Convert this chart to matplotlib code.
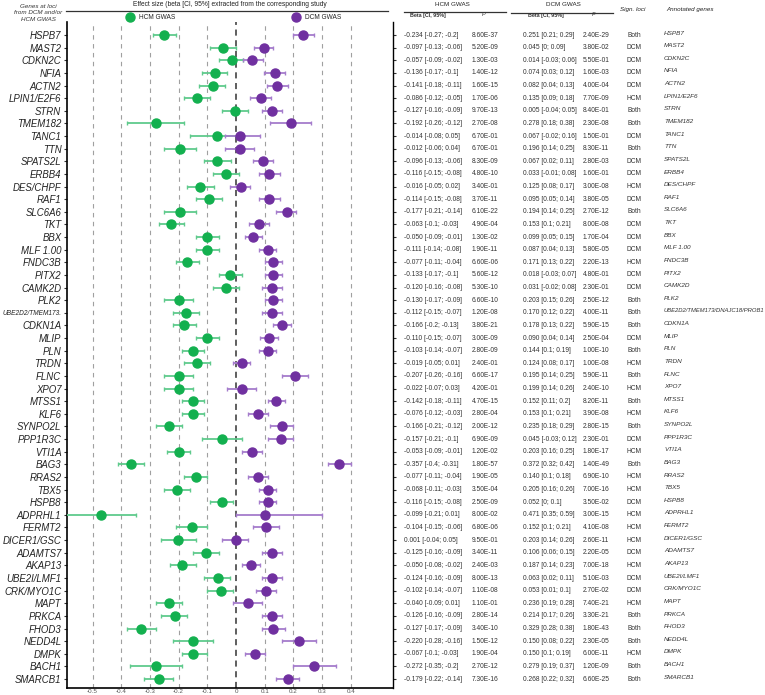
import numpy as np
import matplotlib.pyplot as plt
from matplotlib.lines import Line2D
from matplotlib.transforms import blended_transform_factory

plt.rcParams['font.family'] = ['Liberation Sans', 'DejaVu Sans']

genes = ['HSPB7', 'MAST2', 'CDKN2C', 'NFIA', 'ACTN2', 'LPIN1/E2F6', 'STRN', 'TMEM182',
         'TANC1', 'TTN', 'SPATS2L', 'ERBB4', 'DES/CHPF', 'RAF1', 'SLC6A6', 'TKT', 'BBX',
         'MLF 1.00', 'FNDC3B', 'PITX2', 'CAMK2D', 'PLK2', 'UBE2D2/TMEM173.', 'CDKN1A',
         'MLIP', 'PLN', 'TRDN', 'FLNC', 'XPO7', 'MTSS1', 'KLF6', 'SYNPO2L', 'PPP1R3C',
         'VTI1A', 'BAG3', 'RRAS2', 'TBX5', 'HSPB8', 'ADPRHL1', 'FERMT2', 'DICER1/GSC',
         'ADAMTS7', 'AKAP13', 'UBE2I/LMF1', 'CRK/MYO1C', 'MAPT', 'PRKCA', 'FHOD3',
         'NEDD4L', 'DMPK', 'BACH1', 'SMARCB1']

# значения (точка и 95% ДИ)
hcm_b = [-0.25, -0.045, -0.014, -0.074, -0.08, -0.135, -0.003, -0.278, -0.067, -0.195,
         -0.067, -0.034, -0.125, -0.095, -0.195, -0.225, -0.10, -0.10, -0.17, -0.02,
         -0.035, -0.20, -0.175, -0.18, -0.10, -0.15, -0.135, -0.20, -0.20, -0.15,
         -0.15, -0.235, -0.05, -0.20, -0.365, -0.14, -0.205, -0.05, -0.47, -0.153,
         -0.203, -0.105, -0.187, -0.063, -0.052, -0.235, -0.213, -0.33, -0.15, -0.15,
         -0.28, -0.267]
hcm_lo = [-0.29, -0.09, -0.06, -0.12, -0.13, -0.18, -0.05, -0.38, -0.16, -0.25,
          -0.11, -0.08, -0.17, -0.14, -0.25, -0.27, -0.14, -0.14, -0.21, -0.06,
          -0.08, -0.25, -0.22, -0.22, -0.14, -0.19, -0.18, -0.25, -0.25, -0.19,
          -0.19, -0.28, -0.12, -0.24, -0.41, -0.18, -0.25, -0.09, -0.60, -0.21,
          -0.26, -0.15, -0.23, -0.11, -0.10, -0.28, -0.26, -0.38, -0.22, -0.19,
          -0.37, -0.32]
hcm_hi = [-0.21, 0.0, 0.025, -0.03, -0.04, -0.09, 0.04, -0.18, 0.0, -0.14,
          -0.018, 0.01, -0.077, -0.048, -0.14, -0.18, -0.06, -0.06, -0.13, 0.02,
          0.01, -0.15, -0.13, -0.14, -0.06, -0.11, -0.09, -0.15, -0.15, -0.11,
          -0.11, -0.19, 0.02, -0.16, -0.32, -0.10, -0.16, -0.01, -0.35, -0.10,
          -0.14, -0.058, -0.14, -0.02, -0.01, -0.19, -0.17, -0.28, -0.08, -0.10,
          -0.19, -0.22]
dcm_b = [0.233, 0.098, 0.056, 0.135, 0.142, 0.086, 0.126, 0.192, 0.014, 0.013,
         0.095, 0.116, 0.017, 0.114, 0.178, 0.08, 0.06, 0.11, 0.13, 0.13,
         0.125, 0.13, 0.125, 0.16, 0.115, 0.11, 0.02, 0.205, 0.02, 0.14,
         0.075, 0.16, 0.155, 0.055, 0.36, 0.075, 0.11, 0.11, 0.10, 0.104,
         0.0, 0.126, 0.052, 0.125, 0.103, 0.04, 0.127, 0.128, 0.22, 0.067,
         0.272, 0.18]
dcm_lo = [0.20, 0.063, 0.025, 0.098, 0.108, 0.05, 0.09, 0.12, -0.04, -0.04,
          0.06, 0.08, -0.02, 0.08, 0.14, 0.045, 0.03, 0.08, 0.10, 0.10,
          0.09, 0.10, 0.09, 0.13, 0.085, 0.08, -0.01, 0.16, -0.03, 0.11,
          0.04, 0.12, 0.11, 0.02, 0.32, 0.04, 0.08, 0.08, 0.0, 0.06,
          -0.05, 0.09, 0.02, 0.09, 0.07, -0.01, 0.09, 0.09, 0.16, 0.03,
          0.20, 0.14]
dcm_hi = [0.27, 0.13, 0.093, 0.17, 0.18, 0.122, 0.16, 0.26, 0.083, 0.063,
          0.13, 0.153, 0.05, 0.153, 0.21, 0.115, 0.09, 0.14, 0.16, 0.16,
          0.16, 0.16, 0.16, 0.19, 0.145, 0.14, 0.05, 0.25, 0.07, 0.17,
          0.11, 0.20, 0.20, 0.09, 0.40, 0.11, 0.14, 0.14, 0.30, 0.15,
          0.04, 0.16, 0.083, 0.16, 0.14, 0.09, 0.16, 0.17, 0.28, 0.10,
          0.35, 0.22]

# таблица справа
hcm_txt = ['-0.234 [-0.27; -0.2]', '-0.097 [-0.13; -0.06]', '-0.057 [-0.09; -0.02]',
           '-0.136 [-0.17; -0.1]', '-0.141 [-0.18; -0.11]', '-0.086 [-0.12; -0.05]',
           '-0.127 [-0.16; -0.09]', '-0.192 [-0.26; -0.12]', '-0.014 [-0.08; 0.05]',
           '-0.012 [-0.06; 0.04]', '-0.096 [-0.13; -0.06]', '-0.116 [-0.15; -0.08]',
           '-0.016 [-0.05; 0.02]', '-0.114 [-0.15; -0.08]', '-0.177 [-0.21; -0.14]',
           '-0.063 [-0.1; -0.03]', '-0.050 [-0.09; -0.01]', '-0.111 [-0.14; -0.08]',
           '-0.077 [-0.11; -0.04]', '-0.133 [-0.17; -0.1]', '-0.120 [-0.16; -0.08]',
           '-0.130 [-0.17; -0.09]', '-0.112 [-0.15; -0.07]', '-0.166 [-0.2; -0.13]',
           '-0.110 [-0.15; -0.07]', '-0.103 [-0.14; -0.07]', '-0.019 [-0.05; 0.01]',
           '-0.207 [-0.26; -0.16]', '-0.022 [-0.07; 0.03]', '-0.142 [-0.18; -0.11]',
           '-0.076 [-0.12; -0.03]', '-0.166 [-0.21; -0.12]', '-0.157 [-0.21; -0.1]',
           '-0.053 [-0.09; -0.01]', '-0.357 [-0.4; -0.31]', '-0.077 [-0.11; -0.04]',
           '-0.068 [-0.11; -0.03]', '-0.116 [-0.15; -0.08]', '-0.099 [-0.21; 0.01]',
           '-0.104 [-0.15; -0.06]', '0.001 [-0.04; 0.05]', '-0.125 [-0.16; -0.09]',
           '-0.050 [-0.08; -0.02]', '-0.124 [-0.16; -0.09]', '-0.102 [-0.14; -0.07]',
           '-0.040 [-0.09; 0.01]', '-0.126 [-0.16; -0.09]', '-0.127 [-0.17; -0.09]',
           '-0.220 [-0.28; -0.16]', '-0.067 [-0.1; -0.03]', '-0.272 [-0.35; -0.2]',
           '-0.179 [-0.22; -0.14]']
hcm_p = ['8.60E-37', '5.20E-09', '1.30E-03', '1.40E-12', '1.60E-15', '1.70E-06',
         '9.70E-13', '2.70E-08', '6.70E-01', '6.70E-01', '8.30E-09', '4.80E-10',
         '3.40E-01', '3.70E-11', '6.10E-22', '4.90E-04', '1.30E-02', '1.90E-11',
         '6.60E-06', '5.60E-12', '5.30E-10', '6.60E-10', '1.20E-08', '3.80E-21',
         '3.00E-09', '2.80E-09', '2.40E-01', '6.60E-17', '4.20E-01', '4.70E-15',
         '2.80E-04', '2.00E-12', '6.90E-09', '1.20E-02', '1.80E-57', '1.90E-05',
         '3.50E-04', '2.50E-09', '8.00E-02', '6.80E-06', '9.50E-01', '3.40E-11',
         '2.40E-03', '8.00E-13', '1.10E-08', '1.10E-01', '2.80E-14', '3.40E-10',
         '1.50E-12', '1.90E-04', '2.70E-12', '7.30E-16']
dcm_txt = ['0.251 [0.21; 0.29]', '0.045 [0; 0.09]', '0.014 [-0.03; 0.06]',
           '0.074 [0.03; 0.12]', '0.082 [0.04; 0.13]', '0.135 [0.09; 0.18]',
           '0.005 [-0.04; 0.05]', '0.278 [0.18; 0.38]', '0.067 [-0.02; 0.16]',
           '0.196 [0.14; 0.25]', '0.067 [0.02; 0.11]', '0.033 [-0.01; 0.08]',
           '0.125 [0.08; 0.17]', '0.095 [0.05; 0.14]', '0.194 [0.14; 0.25]',
           '0.153 [0.1; 0.21]', '0.099 [0.05; 0.15]', '0.087 [0.04; 0.13]',
           '0.171 [0.13; 0.22]', '0.018 [-0.03; 0.07]', '0.031 [-0.02; 0.08]',
           '0.203 [0.15; 0.26]', '0.170 [0.12; 0.22]', '0.178 [0.13; 0.22]',
           '0.090 [0.04; 0.14]', '0.144 [0.1; 0.19]', '0.124 [0.08; 0.17]',
           '0.195 [0.14; 0.25]', '0.199 [0.14; 0.26]', '0.152 [0.11; 0.2]',
           '0.153 [0.1; 0.21]', '0.235 [0.18; 0.29]', '0.045 [-0.03; 0.12]',
           '0.203 [0.16; 0.25]', '0.372 [0.32; 0.42]', '0.140 [0.1; 0.18]',
           '0.205 [0.16; 0.26]', '0.052 [0; 0.1]', '0.471 [0.35; 0.59]',
           '0.152 [0.1; 0.21]', '0.203 [0.14; 0.26]', '0.106 [0.06; 0.15]',
           '0.187 [0.14; 0.23]', '0.063 [0.02; 0.11]', '0.053 [0.01; 0.1]',
           '0.236 [0.19; 0.28]', '0.214 [0.17; 0.26]', '0.329 [0.28; 0.38]',
           '0.150 [0.08; 0.22]', '0.150 [0.1; 0.19]', '0.279 [0.19; 0.37]',
           '0.268 [0.22; 0.32]']
dcm_p = ['2.40E-29', '3.80E-02', '5.50E-01', '1.60E-03', '4.00E-04', '7.70E-09',
         '8.40E-01', '2.30E-08', '1.50E-01', '8.30E-11', '2.80E-03', '1.60E-01',
         '3.00E-08', '3.80E-05', '2.70E-12', '8.00E-08', '1.70E-04', '5.80E-05',
         '2.20E-13', '4.80E-01', '2.30E-01', '2.50E-12', '4.00E-11', '5.90E-15',
         '2.50E-04', '1.00E-10', '1.00E-08', '5.90E-11', '2.40E-10', '8.20E-11',
         '3.90E-08', '2.80E-15', '2.30E-01', '1.80E-17', '1.40E-49', '6.90E-10',
         '7.00E-16', '3.50E-02', '3.00E-15', '4.10E-08', '2.60E-11', '2.20E-05',
         '7.00E-18', '5.10E-03', '2.70E-02', '7.40E-21', '3.30E-21', '1.80E-43',
         '2.30E-05', '6.00E-11', '1.20E-09', '6.60E-25']
sign_loci = ['Both', 'DCM', 'DCM', 'DCM', 'DCM', 'HCM', 'Both', 'Both', 'DCM', 'Both',
             'DCM', 'DCM', 'HCM', 'DCM', 'Both', 'DCM', 'DCM', 'DCM', 'HCM', 'DCM',
             'DCM', 'Both', 'Both', 'Both', 'DCM', 'Both', 'HCM', 'Both', 'HCM', 'Both',
             'HCM', 'Both', 'DCM', 'HCM', 'Both', 'HCM', 'HCM', 'DCM', 'HCM', 'HCM',
             'HCM', 'DCM', 'HCM', 'DCM', 'DCM', 'HCM', 'Both', 'Both', 'Both', 'HCM',
             'Both', 'Both']
annotated = list(genes)
annotated[22] = 'UBE2D2/TMEM173/DNAJC18/PROB1'

W, H = 765, 695
green, green_l = '#13b04f', '#5fca8c'
purple, purple_l = '#7030a0', '#a57ccc'


def fx(x):
    return x / W


def fy(y):
    return 1 - y / H


fig = plt.figure(figsize=(W / 100, H / 100), dpi=100)
ax = fig.add_axes([fx(67), fy(688), fx(393) - fx(67), fy(22) - fy(688)])

y = np.arange(len(genes))
hcm_b = np.array(hcm_b)
dcm_b = np.array(dcm_b)

for xv in np.arange(-0.5, 0.45, 0.1):
    if abs(xv) < 1e-9:
        ax.axvline(0, color='#333333', lw=1.1, ls=(0, (4, 3)), zorder=1)
    else:
        ax.axvline(xv, color='#a0a0a0', lw=0.8, ls=(0, (4, 4)), zorder=1)

ax.errorbar(hcm_b, y, xerr=[hcm_b - np.array(hcm_lo), np.array(hcm_hi) - hcm_b],
            fmt='o', color=green, ecolor=green_l, elinewidth=1.3, capsize=1.5,
            capthick=1, markersize=6.5, zorder=3)
ax.errorbar(dcm_b, y, xerr=[dcm_b - np.array(dcm_lo), np.array(dcm_hi) - dcm_b],
            fmt='o', color=purple, ecolor=purple_l, elinewidth=1.3, capsize=1.5,
            capthick=1, markersize=6.5, zorder=3)

ax.set_xlim(-0.589, 0.547)
ax.set_ylim(51.71, -1.03)
ax.set_yticks(y)
ax.set_yticklabels(genes, fontstyle='italic', fontsize=6.9, color='#222222')
ax.get_yticklabels()[22].set_fontsize(4.7)
ax.set_xticks(np.round(np.arange(-0.5, 0.45, 0.1), 1))
ax.set_xticklabels(['-0.5', '-0.4', '-0.3', '-0.2', '-0.1', '0', '0.1', '0.2', '0.3', '0.4'],
                   fontsize=4.5, color='#555555')
ax.tick_params(axis='y', length=2.5, width=0.8, pad=1.5, right=True, color='#333333')
ax.tick_params(axis='x', length=0, pad=1)
ax.spines['top'].set_visible(False)
ax.spines['left'].set_linewidth(1.2)
ax.spines['bottom'].set_linewidth(1.2)
ax.spines['right'].set_linewidth(1.0)

# заголовки слева
fig.text(fx(38), fy(13), 'Genes at loci\nfrom DCM and/or\nHCM GWAS', fontsize=4.5,
         fontstyle='italic', ha='center', va='center', color='#333333', linespacing=1.3)
fig.text(fx(230), fy(5), 'Effect size (beta [CI, 95%] extracted from the corresponding study',
         fontsize=4.8, ha='center', va='center', color='#222222')
fig.add_artist(Line2D([fx(66), fx(388)], [fy(11), fy(11)], color='#333333', lw=0.9))

# легенда
for xm, lab, c in [(130, 'HCM GWAS', green), (296, 'DCM GWAS', purple)]:
    fig.add_artist(Line2D([fx(xm)], [fy(17)], marker='o', markersize=6.5, color=c))
    fig.text(fx(xm + 9), fy(17.5), lab, fontsize=4.7, va='center', color='#222222')

# таблица
tr = blended_transform_factory(fig.transFigure, ax.transData)
fig.text(fx(452), fy(4), 'HCM GWAS', fontsize=4.5, ha='center', va='center', color='#222222')
fig.add_artist(Line2D([fx(404), fx(506)], [fy(11.5), fy(11.5)], color='#333333', lw=0.9))
fig.text(fx(428), fy(15), 'Beta [CI, 95%]', fontsize=3.9, ha='center', va='center',
         fontweight='bold', color='#333333')
fig.text(fx(484), fy(15), 'P', fontsize=3.9, ha='center', va='center', fontstyle='italic',
         color='#333333')
fig.text(fx(563), fy(5), 'DCM GWAS', fontsize=4.5, ha='center', va='center', color='#222222')
fig.add_artist(Line2D([fx(511), fx(613)], [fy(12.5), fy(12.5)], color='#333333', lw=0.9))
fig.text(fx(546), fy(15), 'Beta [CI, 95%]', fontsize=3.9, ha='center', va='center',
         fontweight='bold', color='#333333')
fig.text(fx(594), fy(15), 'P', fontsize=3.9, ha='center', va='center', fontstyle='italic',
         color='#333333')
fig.text(fx(633), fy(10), 'Sign. loci', fontsize=4.5, ha='center', va='center',
         fontstyle='italic', color='#222222')
fig.text(fx(666), fy(10), 'Annotated genes', fontsize=4.5, ha='left', va='center',
         fontstyle='italic', color='#222222')

for i in range(len(genes)):
    kw = dict(transform=tr, fontsize=4.8, va='center', color='#333333')
    ax.text(fx(404), i, hcm_txt[i], **kw)
    ax.text(fx(472), i, hcm_p[i], **kw)
    ax.text(fx(523), i, dcm_txt[i], **kw)
    ax.text(fx(583), i, dcm_p[i], **kw)
    ax.text(fx(634), i, sign_loci[i], ha='center', **kw)
    ax.text(fx(664), i - 0.15, annotated[i], transform=tr,
            fontsize=4.2 if i == 22 else 4.6, va='center',
            fontstyle='italic', color='#333333')

fig.savefig('out.png', dpi=100)
